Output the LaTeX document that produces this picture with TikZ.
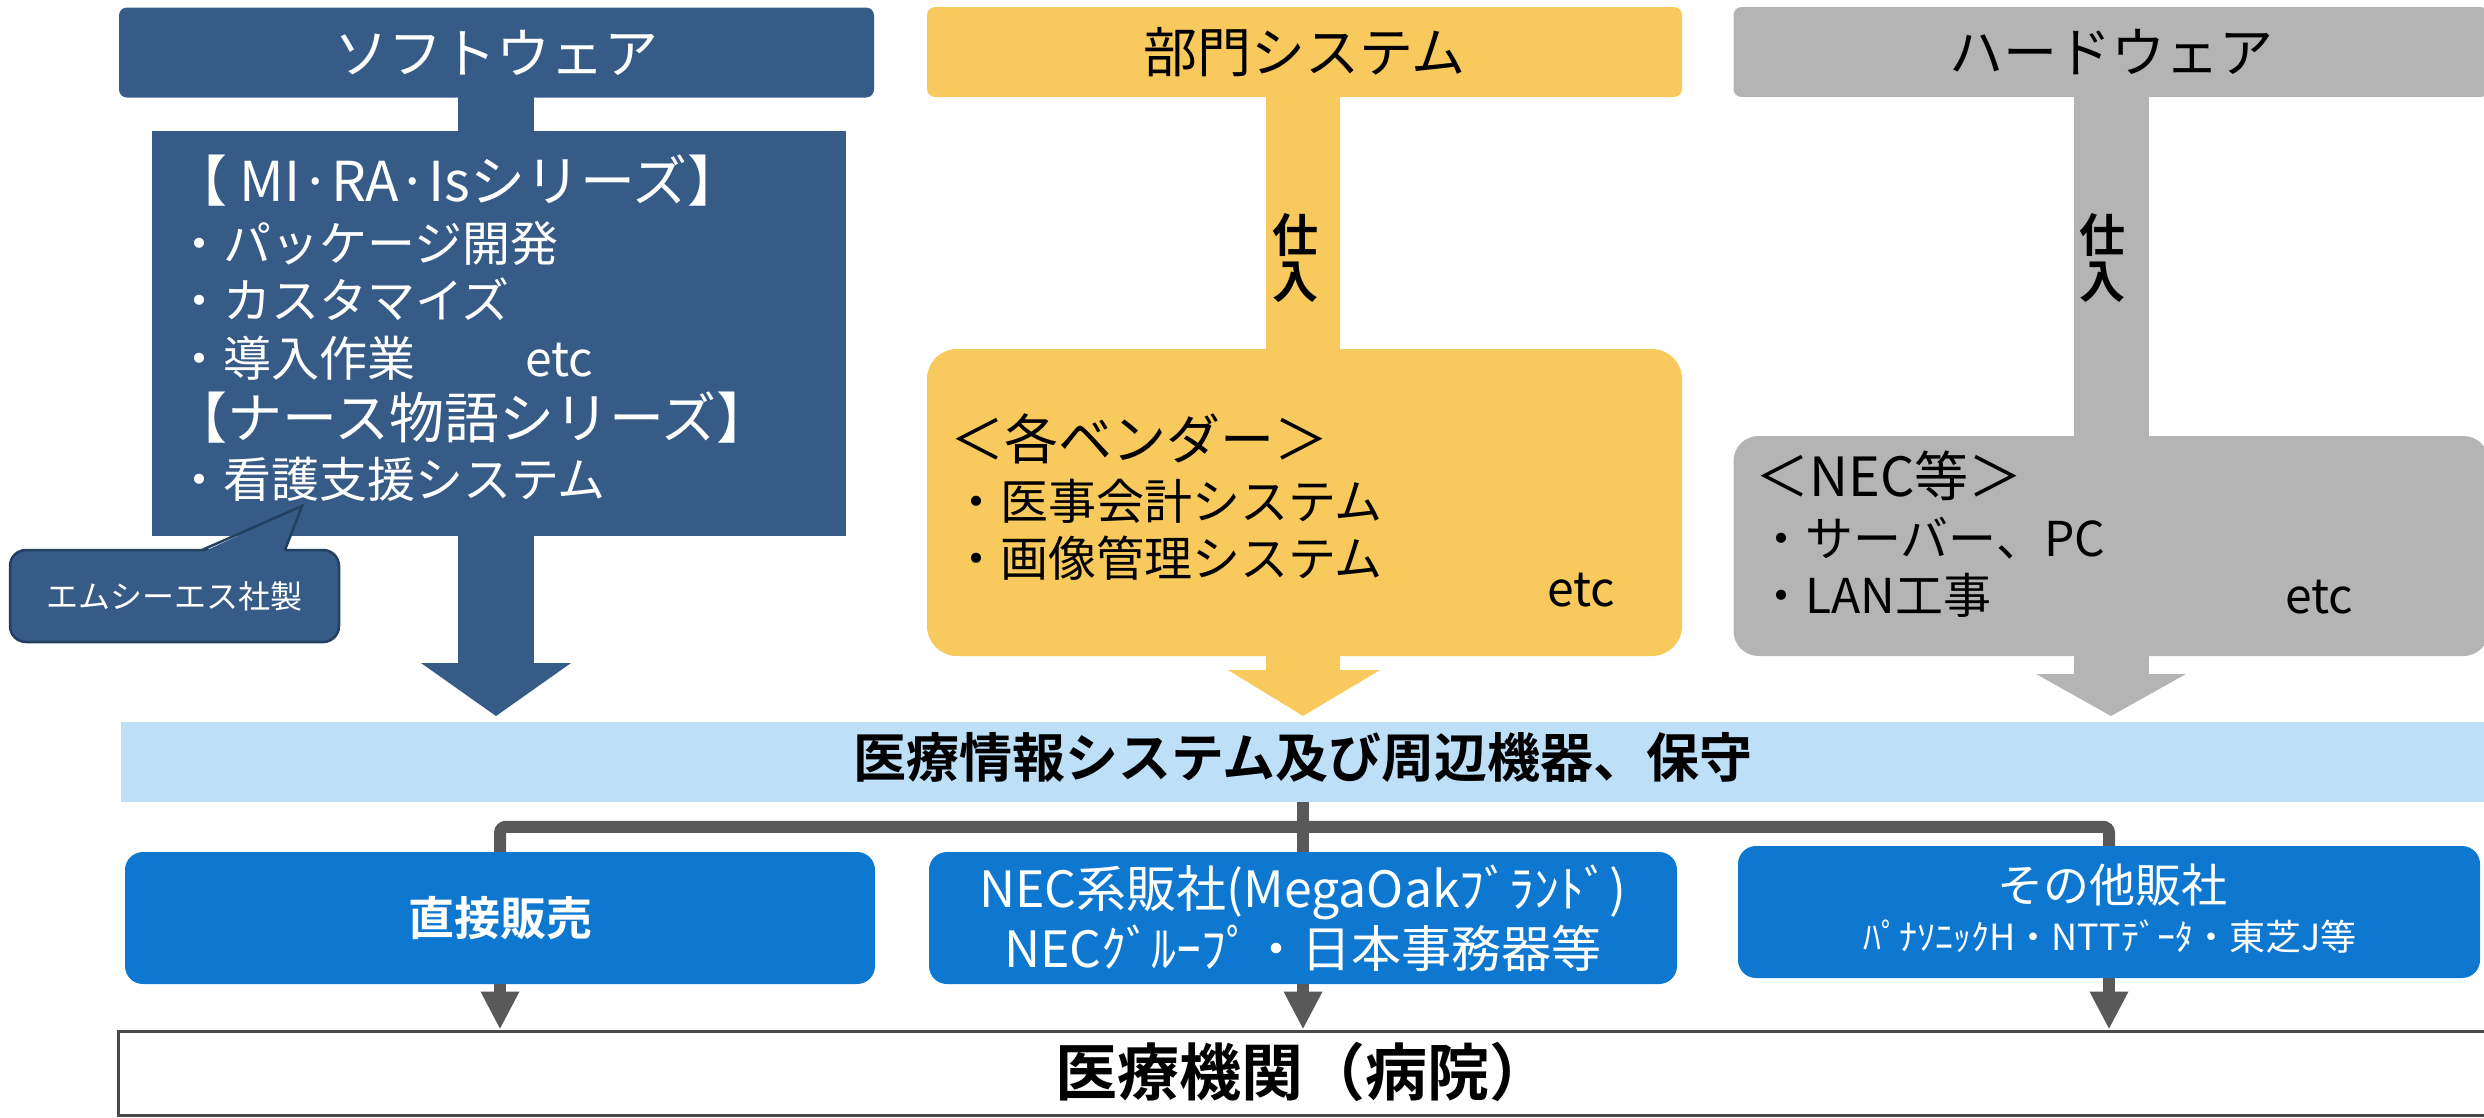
\documentclass[tikz,border=0pt]{standalone}
\usepackage{fontspec}
\setmainfont{Noto Sans CJK JP}[BoldFont={Noto Sans CJK JP Bold}]
\usetikzlibrary{arrows.meta,calc}
\definecolor{swblue}{HTML}{355B86}
\definecolor{ylw}{HTML}{F8C95C}
\definecolor{hwgray}{HTML}{B4B4B4}
\definecolor{bandblue}{HTML}{BDDFF8}
\definecolor{salesblue}{HTML}{0E77CF}
\definecolor{conn}{HTML}{595959}
\definecolor{calloutedge}{HTML}{22405F}
\definecolor{hospedge}{HTML}{4A4A4A}
\begin{document}
\begin{tikzpicture}[x=1pt,y=-1pt,
  hdr/.style={rectangle, rounded corners=8pt, minimum width=755pt, minimum height=90pt, inner sep=0pt, font=\fontsize{54}{60}\selectfont},
  bodybox/.style={rectangle, inner sep=0pt},
  ln/.style={anchor=base west, inner sep=0pt, font=\fontsize{48}{58}\selectfont},
  lnbig/.style={ln, font=\fontsize{54}{60}\selectfont},
  shiire/.style={inner sep=0pt, align=center, font=\bfseries\fontsize{46}{46}\selectfont},
  sales/.style={rectangle, fill=salesblue, rounded corners=18pt, text=white, inner sep=0pt, align=center},
  bus/.style={draw=conn, line width=12pt, rounded corners=6pt},
  dn/.style={draw=conn, line width=12pt, -{Triangle[width=36pt,length=38pt]}},
]
\useasboundingbox (0,0) rectangle (2484,1117);
\clip (0,0) rectangle (2484,1117);

% ---------------- Software column
\fill[swblue] (458,90) rectangle (534,663);
\fill[swblue] (421,663) -- (571,663) -- (496,716) -- cycle;
\node[hdr, fill=swblue, text=white] (swh) at (496.5,52.5) {ソフトウェア};
\node[bodybox, fill=swblue, minimum width=694pt, minimum height=405pt] (swbody) at (499,333.5) {};
\node[lnbig, text=white, font=\fontsize{55}{60}\selectfont] (sw1) at (172,201) {【 MI·RA·Isシリーズ】};
\node[ln, text=white] (sw2) at (175,261) {・パッケージ開発};
\node[ln, text=white] (sw3) at (175,318) {・カスタマイズ};
\node[ln, text=white] (sw4) at (175,376) {・導入作業};
\node[ln, text=white] (sw4e) at (525,376) {etc};
\node[lnbig, text=white, font=\fontsize{55}{60}\selectfont] (sw5) at (172,438) {【ナース物語シリーズ】};
\node[ln, text=white] (sw6) at (175,497) {・看護支援システム};
% callout
\node[fill=swblue, draw=calloutedge, line width=2.5pt, rounded corners=16pt, minimum width=329pt, minimum height=92pt, text=white, inner sep=0pt, font=\fontsize{32}{32}\selectfont] (ems) at (174.5,596) {エムシーエス社製};
\fill[swblue] (203,552) -- (302,506) -- (284,552) -- cycle;
\draw[calloutedge, line width=2.5pt] (202,550) -- (302,506) -- (285,550);

% ---------------- Department systems column
\fill[ylw] (1266,90) rectangle (1340,670);
\fill[ylw] (1228,670) -- (1380,670) -- (1303,716) -- cycle;
\node[hdr, fill=ylw] (bmh) at (1304.5,52) {部門システム};
\node[bodybox, fill=ylw, rounded corners=30pt, minimum width=755pt, minimum height=307pt] (bmbody) at (1304.5,502.5) {};
\node[shiire] (bmsi) at (1295,258) {仕\\入};
\node[lnbig] (bm1) at (950,459) {＜各ベンダー＞};
\node[ln] (bm2) at (952,519) {・医事会計システム};
\node[ln] (bm3) at (952,576) {・画像管理システム};
\node[ln] (bm4) at (1547,606) {etc};

% ---------------- Hardware column
\fill[hwgray] (2074,90) rectangle (2149,674);
\fill[hwgray] (2036,674) -- (2186,674) -- (2111,716) -- cycle;
\node[hdr, fill=hwgray] (hwh) at (2111,52) {ハードウェア};
\node[bodybox, fill=hwgray, rounded corners=25pt, minimum width=755pt, minimum height=220pt] (hwbody) at (2111,546) {};
\node[shiire] (hwsi) at (2102,258) {仕\\入};
\node[lnbig] (hw1) at (1755,496) {＜NEC等＞};
\node[ln] (hw2) at (1757,556) {・サーバー、PC};
\node[ln] (hw3) at (1757,613) {・LAN工事};
\node[ln] (hw4) at (2285,613) {etc};

% ---------------- Band
\node[bodybox, fill=bandblue, minimum width=2400pt, minimum height=80pt] (band) at (1321,762) {};
\node[anchor=base, inner sep=0pt, font=\bfseries\fontsize{53}{53}\selectfont] (bandtxt) at (1303,777) {医療情報システム及び周辺機器、保守};

% ---------------- Sales channels
\node[sales, minimum width=750pt, minimum height=132pt, font=\bfseries\fontsize{46}{46}\selectfont] (direct) at (500,918) {直接販売};
\node[sales, minimum width=748pt, minimum height=132pt, font=\fontsize{50}{60}\selectfont] (nec) at (1303,918) {NEC系販社(MegaOakﾌﾞﾗﾝﾄﾞ)\\NECｸﾞﾙｰﾌﾟ・日本事務器等};
\node[sales, minimum width=742pt, minimum height=132pt] (other) at (2109,912) {};
\node[anchor=base, inner sep=0pt, text=white, font=\fontsize{46}{46}\selectfont] (other1) at (2112,902) {その他販社};
\node[anchor=base, inner sep=0pt, text=white, font=\fontsize{36}{36}\selectfont] (other2) at (2110,950) {ﾊﾟﾅｿﾆｯｸH・NTTﾃﾞｰﾀ・東芝J等};

\draw[bus] (direct.north) -- ++(0,-25) -| (other.north);
\draw[bus] (band.south -| nec.north) -- (nec.north);

% ---------------- Hospital
\node[bodybox, draw=hospedge, line width=3pt, fill=white, minimum width=2380pt, minimum height=84pt] (hosp) at (1308,1073) {};
\node[anchor=base, inner sep=0pt, font=\bfseries\fontsize{62}{62}\selectfont] (hosptxt) at (1303,1095) {医療機関（病院）};

\draw[dn] (direct.south) -- (direct.south |- hosp.north);
\draw[dn] (nec.south) -- (nec.south |- hosp.north);
\draw[dn] (other.south) -- (other.south |- hosp.north);
\end{tikzpicture}
\end{document}
